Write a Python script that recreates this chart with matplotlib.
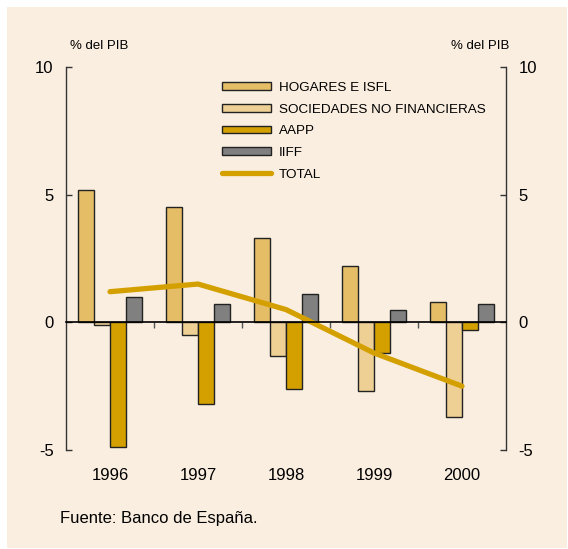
import matplotlib
matplotlib.use("Agg")
import matplotlib.pyplot as plt
from matplotlib.patches import Rectangle
import numpy as np

plt.rcParams['font.family'] = ['Liberation Sans', 'DejaVu Sans']

years = ['1996', '1997', '1998', '1999', '2000']
hogares = [5.2, 4.5, 3.3, 2.2, 0.8]
sociedades = [-0.1, -0.5, -1.3, -2.7, -3.7]
aapp = [-4.9, -3.2, -2.6, -1.2, -0.3]
iiff = [1.0, 0.7, 1.1, 0.5, 0.7]
total = [1.2, 1.5, 0.5, -1.2, -2.5]
series_names = ['HOGARES E ISFL', 'SOCIEDADES NO FINANCIERAS', 'AAPP', 'IIFF']
yticks = [-5, 0, 5, 10]

bg = '#faeee0'
colors = ['#e6bd67', '#eed095', '#d4a000', '#808080']
line_color = '#d4a000'

fig = plt.figure(figsize=(5.68, 5.49), dpi=100, facecolor='white')
fig.patches.append(Rectangle((7/568, 1/549), 560/568, 541/549, transform=fig.transFigure,
                             facecolor=bg, edgecolor='none', zorder=-10))
ax = fig.add_axes([66/568, 1-450/549, 440/568, 383/549])
ax.set_zorder(1)
ax.set_facecolor('none')

x = np.arange(len(years))
w = 16/88
data = [hogares, sociedades, aapp, iiff]
handles = []
for i, (vals, c, name) in enumerate(zip(data, colors, series_names)):
    b = ax.bar(x + (i - 1.5) * w, vals, width=w, color=c, edgecolor='#222222',
               linewidth=1.0, label=name, zorder=2)
    handles.append(b)
ln, = ax.plot(x, total, color=line_color, linewidth=3.8, solid_capstyle='round',
              label='TOTAL', zorder=3)
handles.append(ln)

ax.set_xlim(-0.5, 4.5)
ax.set_ylim(-5, 10)

ax.spines['top'].set_visible(False)
ax.spines['bottom'].set_position(('data', 0))
ax.spines['bottom'].set_linewidth(1.2)
ax.spines['bottom'].set_zorder(4)
for s in ['left', 'right']:
    ax.spines[s].set_color('#333333')
    ax.spines[s].set_linewidth(1.0)

ax.set_xticks([0.5, 1.5, 2.5, 3.5])
ax.set_xticklabels([])
ax.tick_params(axis='x', direction='out', length=4, width=1, color='#555555')

ax.set_yticks(yticks)
ax.set_yticklabels([str(v) for v in yticks])
ax.tick_params(axis='y', direction='in', length=4, width=1, labelsize=12,
               left=True, right=True, labelleft=True, labelright=True,
               pad=9, color='#333333')

sec = ax.secondary_xaxis('bottom')
sec.spines['bottom'].set_visible(False)
sec.set_xticks(x)
sec.set_xticklabels(years, fontsize=12)
sec.tick_params(length=0, pad=13)

ax.legend(handles=handles, labels=series_names + ['TOTAL'],
          loc='upper left', bbox_to_anchor=(222/568, 1-82/549),
          bbox_transform=fig.transFigure, frameon=False, fontsize=9.7,
          handlelength=3.6, handleheight=0.5, labelspacing=0.72,
          handletextpad=0.6, borderaxespad=0, borderpad=0)

fig.text(70/568, 1-46/549, '% del PIB', fontsize=9.5, ha='left', va='center')
fig.text(509/568, 1-46/549, '% del PIB', fontsize=9.5, ha='right', va='center')
fig.text(60/568, 1-518/549, 'Fuente: Banco de España.', fontsize=12, ha='left', va='center')

fig.savefig('out.png', dpi=100, facecolor='white')
